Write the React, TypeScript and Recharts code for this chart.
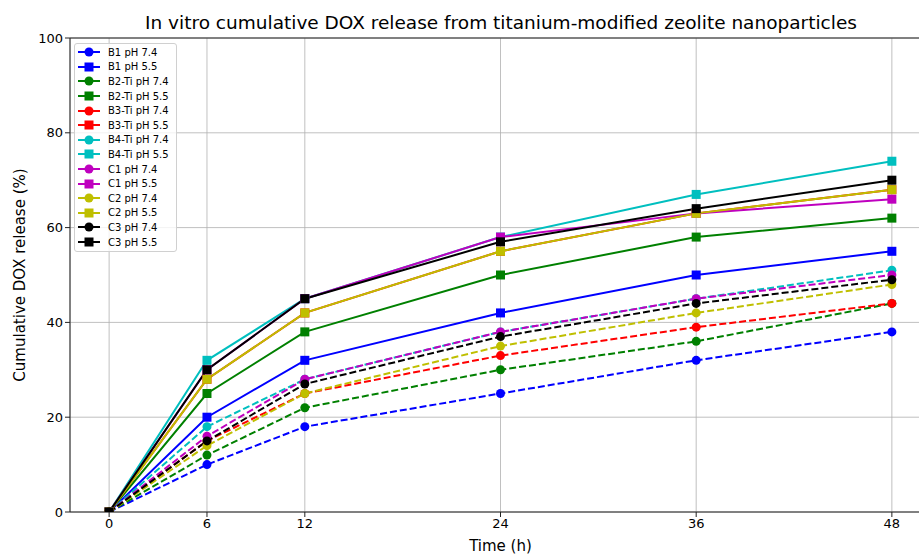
import React from "react";
import {
  LineChart,
  Line,
  XAxis,
  YAxis,
  CartesianGrid,
  ReferenceLine,
} from "recharts";

const times = [0, 6, 12, 24, 36, 48];
const xTicks = [0, 6, 12, 24, 36, 48];
const yTicks = [0, 20, 40, 60, 80, 100];

const b1_74 = [0, 10, 18, 25, 32, 38];
const b1_55 = [0, 20, 32, 42, 50, 55];
const b2_74 = [0, 12, 22, 30, 36, 44];
const b2_55 = [0, 25, 38, 50, 58, 62];
const b3_74 = [0, 15, 25, 33, 39, 44];
const b3_55 = [0, 28, 42, 55, 63, 68];
const b4_74 = [0, 18, 28, 38, 45, 51];
const b4_55 = [0, 32, 45, 58, 67, 74];
const c1_74 = [0, 16, 28, 38, 45, 50];
const c1_55 = [0, 30, 45, 58, 63, 66];
const c2_74 = [0, 14, 25, 35, 42, 48];
const c2_55 = [0, 28, 42, 55, 63, 68];
const c3_74 = [0, 15, 27, 37, 44, 49];
const c3_55 = [0, 30, 45, 57, 64, 70];

type seriesDef = {
  key: string;
  name: string;
  values: number[];
  color: string;
  acid: boolean;
};

const series: seriesDef[] = [
  { key: "b1_74", name: "B1 pH 7.4", values: b1_74, color: "#0000ff", acid: false },
  { key: "b1_55", name: "B1 pH 5.5", values: b1_55, color: "#0000ff", acid: true },
  { key: "b2_74", name: "B2-Ti pH 7.4", values: b2_74, color: "#008000", acid: false },
  { key: "b2_55", name: "B2-Ti pH 5.5", values: b2_55, color: "#008000", acid: true },
  { key: "b3_74", name: "B3-Ti pH 7.4", values: b3_74, color: "#ff0000", acid: false },
  { key: "b3_55", name: "B3-Ti pH 5.5", values: b3_55, color: "#ff0000", acid: true },
  { key: "b4_74", name: "B4-Ti pH 7.4", values: b4_74, color: "#00bfbf", acid: false },
  { key: "b4_55", name: "B4-Ti pH 5.5", values: b4_55, color: "#00bfbf", acid: true },
  { key: "c1_74", name: "C1 pH 7.4", values: c1_74, color: "#bf00bf", acid: false },
  { key: "c1_55", name: "C1 pH 5.5", values: c1_55, color: "#bf00bf", acid: true },
  { key: "c2_74", name: "C2 pH 7.4", values: c2_74, color: "#bfbf00", acid: false },
  { key: "c2_55", name: "C2 pH 5.5", values: c2_55, color: "#bfbf00", acid: true },
  { key: "c3_74", name: "C3 pH 7.4", values: c3_74, color: "#000000", acid: false },
  { key: "c3_55", name: "C3 pH 5.5", values: c3_55, color: "#000000", acid: true },
];

const data = times.map((t, i) => {
  const row: Record<string, number> = { t };
  series.forEach((s) => {
    row[s.key] = s.values[i];
  });
  return row;
});

const FONT = "'DejaVu Sans', sans-serif";

function makeDot(color: string, square: boolean) {
  return (props: any) => {
    const { cx, cy, index } = props;
    if (cx == null || cy == null) return <g key={index} />;
    if (square) {
      return (
        <rect key={index} x={cx - 4.5} y={cy - 4.5} width={9} height={9} fill={color} />
      );
    }
    return <circle key={index} cx={cx} cy={cy} r={4.5} fill={color} />;
  };
}

function LegendBox() {
  return (
    <div
      style={{
        position: "absolute",
        left: 74,
        top: 43,
        background: "rgba(255,255,255,0.8)",
        border: "1px solid #d0d0d0",
        borderRadius: 3,
        padding: "1px 7px 2px 3px",
        fontFamily: FONT,
        fontSize: 10,
        color: "#000",
      }}
    >
      {series.map((s) => (
        <div
          key={s.key}
          style={{ display: "flex", alignItems: "center", height: 14.6 }}
        >
          <svg width={22} height={12} style={{ marginRight: 8 }}>
            <line x1={0} y1={6} x2={22} y2={6} stroke={s.color} strokeWidth={2} />
            {s.acid ? (
              <rect x={6.5} y={1.5} width={9} height={9} fill={s.color} />
            ) : (
              <circle cx={11} cy={6} r={4.5} fill={s.color} />
            )}
          </svg>
          <span>{s.name}</span>
        </div>
      ))}
    </div>
  );
}

function YLabel(props: any) {
  const { viewBox } = props;
  const cy = viewBox.y + viewBox.height / 2;
  return (
    <text
      x={20}
      y={cy}
      transform={`rotate(-90 20 ${cy})`}
      textAnchor="middle"
      dominantBaseline="middle"
      fontFamily={FONT}
      fontSize={15}
      fill="#000"
    >
      Cumulative DOX release (%)
    </text>
  );
}

function XLabel(props: any) {
  const { viewBox } = props;
  const cx = viewBox.x + viewBox.width / 2;
  return (
    <text
      x={cx}
      y={546}
      textAnchor="middle"
      dominantBaseline="middle"
      fontFamily={FONT}
      fontSize={15}
      fill="#000"
    >
      Time (h)
    </text>
  );
}

export default function App() {
  return (
    <div
      style={{
        position: "fixed",
        left: 0,
        top: 0,
        width: 919,
        height: 554,
        overflow: "hidden",
        background: "#fff",
      }}
    >
      <LineChart
        width={940}
        height={554}
        data={data}
        margin={{ top: 38, right: 9, left: 0, bottom: 0 }}
      >
        <text
          x={501}
          y={24}
          textAnchor="middle"
          dominantBaseline="middle"
          fontFamily={FONT}
          fontSize={18.5}
          fill="#000"
        >
          In vitro cumulative DOX release from titanium-modified zeolite nanoparticles
        </text>
        <CartesianGrid stroke="#b0b0b0" strokeWidth={0.8} />
        <XAxis
          dataKey="t"
          type="number"
          domain={[-2.4, 50.4]}
          ticks={xTicks}
          allowDataOverflow
          height={42}
          axisLine={{ stroke: "#222", strokeWidth: 1 }}
          tickLine={{ stroke: "#222" }}
          tickSize={5}
          tick={{ fontFamily: FONT, fontSize: 13, fill: "#000" }}
          label={<XLabel />}
        />
        <YAxis
          type="number"
          domain={[0, 100]}
          ticks={yTicks}
          allowDataOverflow
          width={70}
          axisLine={{ stroke: "#222", strokeWidth: 1 }}
          tickLine={{ stroke: "#222" }}
          tickSize={5}
          tick={{ fontFamily: FONT, fontSize: 13, fill: "#000" }}
          label={<YLabel />}
        />
        <ReferenceLine y={100} stroke="#222" strokeWidth={1} />
        {series.map((s) => (
          <Line
            key={s.key}
            dataKey={s.key}
            name={s.name}
            type="linear"
            stroke={s.color}
            strokeWidth={2}
            strokeDasharray={s.acid ? undefined : "7 3"}
            dot={makeDot(s.color, s.acid)}
            activeDot={false}
            isAnimationActive={false}
          />
        ))}
      </LineChart>
      <LegendBox />
    </div>
  );
}
